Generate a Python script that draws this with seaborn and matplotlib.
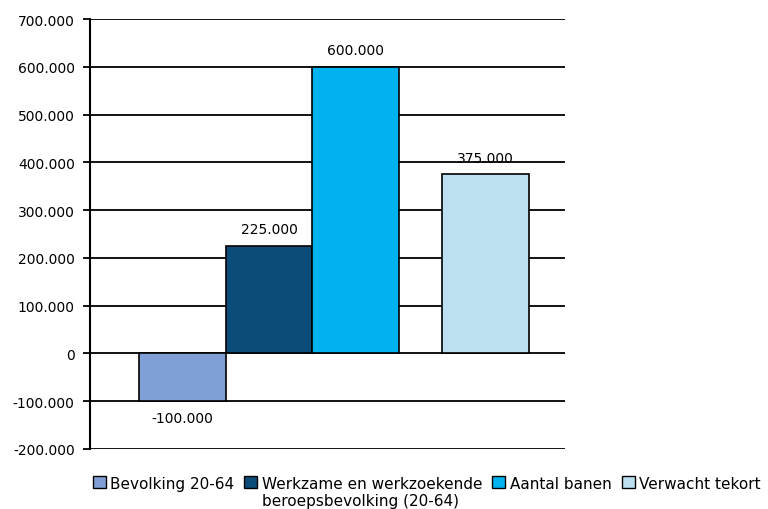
import numpy as np
import pandas as pd
import matplotlib.pyplot as plt
from matplotlib.ticker import FuncFormatter, MultipleLocator
import seaborn as sns

categories = [
    "Bevolking 20-64",
    "Werkzame en werkzoekende\nberoepsbevolking (20-64)",
    "Aantal banen",
    "Verwacht tekort",
]
values = [-100000, 225000, 600000, 375000]
value_labels = ["-100.000", "225.000", "600.000", "375.000"]
colors = ["#7f9fd6", "#0b4c78", "#00b2ee", "#bde0f0"]

# first three bars touch, last one sits half a slot apart
slots = np.arange(len(categories), dtype=float)
slots[-1] += 0.5

df = pd.DataFrame({"pos": slots, "value": values, "cat": categories})

sns.set_style("white")
plt.rcParams["font.family"] = ["DejaVu Sans"]
plt.rcParams["text.color"] = "black"
plt.rcParams["ytick.color"] = "black"

fig = plt.figure(figsize=(7.68, 5.10), dpi=100)
ax = fig.add_axes([90 / 768, 1 - 450 / 510, 475 / 768, 430 / 510])

sns.barplot(data=df, x="pos", y="value", hue="cat", hue_order=categories,
            palette=colors, native_scale=True, width=1, dodge=False,
            orient="x", edgecolor="black", linewidth=1.2, saturation=1,
            ax=ax)

for cont, lab in zip(ax.containers, value_labels):
    ax.bar_label(cont, labels=[lab], padding=7, fontsize=10, color="black")

ax.set_ylim(-200000, 700000)
ax.set_xlim(-1.07, 4.42)
ax.yaxis.set_major_locator(MultipleLocator(100000))
ax.yaxis.set_major_formatter(FuncFormatter(lambda v, p: f"{v:,.0f}".replace(",", ".")))
ax.set_xticks([])
ax.set_xlabel("")
ax.set_ylabel("")

ax.set_axisbelow(True)
ax.yaxis.grid(True, color="black", linewidth=1.3)
for s in ["top", "right", "bottom"]:
    ax.spines[s].set_visible(False)
ax.spines["left"].set_color("black")
ax.spines["left"].set_linewidth(1.5)
ax.tick_params(axis="y", left=True, length=5, width=1.3, color="black",
               labelsize=10, labelcolor="black", pad=6)

sns.move_legend(ax, "upper left", bbox_to_anchor=(0.006, -0.063), ncol=4,
                frameon=False, title=None, fontsize=11,
                handlelength=0.85, handleheight=0.85, handletextpad=0.3,
                columnspacing=0.65, borderpad=0, borderaxespad=0)
leg = ax.get_legend()
for h in leg.legend_handles:
    h.set_edgecolor("black")
    h.set_linewidth(1)
for t in leg.get_texts():
    t.set_color("black")

# line the legend entries up on their first line, like the original
leg._legend_handle_box.align = "top"
for col in leg._legend_handle_box.get_children():
    for item in col.get_children():
        item.align = "top"

fig.savefig("out.png", dpi=100)
